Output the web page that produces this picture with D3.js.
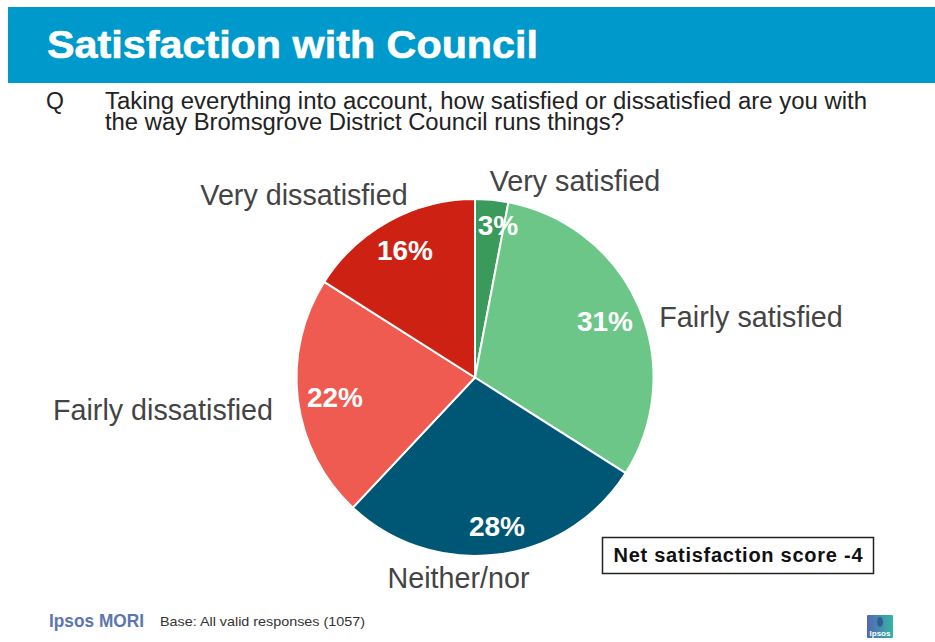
<!DOCTYPE html>
<html>
<head>
<meta charset="utf-8">
<script src="https://cdn.jsdelivr.net/npm/d3@7/dist/d3.min.js"></script>
<style>
  html, body { margin: 0; padding: 0; background: #fff; }
  svg { display: block; }
  text { font-family: "Liberation Sans", Arial, sans-serif; }
</style>
</head>
<body>
<svg id="chart" width="935" height="642"></svg>
<script>
// Survey responses, clockwise from twelve o'clock
const categories = ["Very satisfied", "Fairly satisfied", "Neither/nor", "Fairly dissatisfied", "Very dissatisfied"];
const shares = [3, 31, 28, 22, 16];
const sliceColors = ["#3a9a5c", "#6cc688", "#005675", "#ef5b50", "#cd2213"];
const questionLines = [
  "Taking everything into account, how satisfied or dissatisfied are you with",
  "the way Bromsgrove District Council runs things?"
];
// Anchors for the category names and the percentages, by slice
const nameSpots = [[575, 191], [751, 327], [458.5, 588], [163, 420], [304, 205]];
const shareSpots = [[498, 235], [605, 331], [497, 536], [335, 407], [405, 260]];

const svg = d3.select("#chart");

// Title band
svg.append("rect").attr("x", 8).attr("y", 7).attr("width", 927).attr("height", 76).attr("fill", "#0099cc");
svg.append("text").attr("x", 47).attr("y", 58)
  .attr("font-size", 38).attr("font-weight", 700).attr("fill", "#fff")
  .attr("stroke", "#fff").attr("stroke-width", 0.6)
  .attr("textLength", 491).attr("lengthAdjust", "spacingAndGlyphs")
  .text("Satisfaction with Council");

// Question
svg.append("text").attr("x", 46).attr("y", 109).attr("font-size", 23).attr("fill", "#222").text("Q");
svg.selectAll("text.question").data(questionLines).join("text")
  .attr("class", "question")
  .attr("x", 105).attr("y", (d, i) => 109 + i * 21)
  .attr("font-size", 23).attr("fill", "#222")
  .attr("textLength", (d, i) => i === 0 ? 762 : 519)
  .attr("lengthAdjust", "spacingAndGlyphs")
  .text(d => d);

// Pie
const pie = d3.pie().sort(null).value(d => d);
const arc = d3.arc().innerRadius(0).outerRadius(178.5);
const pieGroup = svg.append("g").attr("transform", "translate(475,377.5)");
pieGroup.selectAll("path").data(pie(shares)).join("path")
  .attr("d", arc)
  .attr("fill", (d, i) => sliceColors[i])
  .attr("stroke", "#fff").attr("stroke-width", 2);

// Category names
svg.selectAll("text.name").data(categories).join("text")
  .attr("class", "name")
  .attr("x", (d, i) => nameSpots[i][0]).attr("y", (d, i) => nameSpots[i][1])
  .attr("text-anchor", "middle")
  .attr("font-size", 28.7).attr("fill", "#444")
  .text(d => d);

// Percentages on the slices
svg.selectAll("text.share").data(shares).join("text")
  .attr("class", "share")
  .attr("x", (d, i) => shareSpots[i][0]).attr("y", (d, i) => shareSpots[i][1])
  .attr("text-anchor", "middle")
  .attr("font-size", 28).attr("font-weight", 700).attr("fill", "#fff")
  .text(d => d + "%");

// Net score box
svg.append("rect").attr("x", 602.5).attr("y", 537.5).attr("width", 271).attr("height", 36)
  .attr("fill", "#fff").attr("stroke", "#222").attr("stroke-width", 1.5);
svg.append("text").attr("x", 738).attr("y", 562).attr("text-anchor", "middle")
  .attr("font-size", 20).attr("font-weight", 700).attr("fill", "#111")
  .attr("textLength", 249).attr("lengthAdjust", "spacing")
  .text("Net satisfaction score -4");

// Footer
svg.append("text").attr("x", 49).attr("y", 627)
  .attr("font-family", "Open Sans").attr("font-size", 18).attr("font-weight", 600).attr("fill", "#5b76b0")
  .attr("textLength", 95).attr("lengthAdjust", "spacingAndGlyphs")
  .text("Ipsos MORI");
svg.append("text").attr("x", 160).attr("y", 626)
  .attr("font-size", 13).attr("fill", "#333")
  .attr("textLength", 205).attr("lengthAdjust", "spacingAndGlyphs")
  .text("Base: All valid responses (1057)");

// Small corner badge
const grad = svg.append("defs").append("linearGradient").attr("id", "badge");
grad.append("stop").attr("offset", "0%").attr("stop-color", "#5366b4");
grad.append("stop").attr("offset", "100%").attr("stop-color", "#35b5a5");
svg.append("rect").attr("x", 867).attr("y", 615).attr("width", 26).attr("height", 23).attr("rx", 1).attr("fill", "url(#badge)");
svg.append("ellipse").attr("cx", 880).attr("cy", 622).attr("rx", 3).attr("ry", 5).attr("fill", "#2f5f8f");
svg.append("text").attr("x", 880).attr("y", 636).attr("text-anchor", "middle")
  .attr("font-size", 8).attr("font-weight", 700).attr("fill", "#fff").text("Ipsos");
</script>
</body>
</html>
